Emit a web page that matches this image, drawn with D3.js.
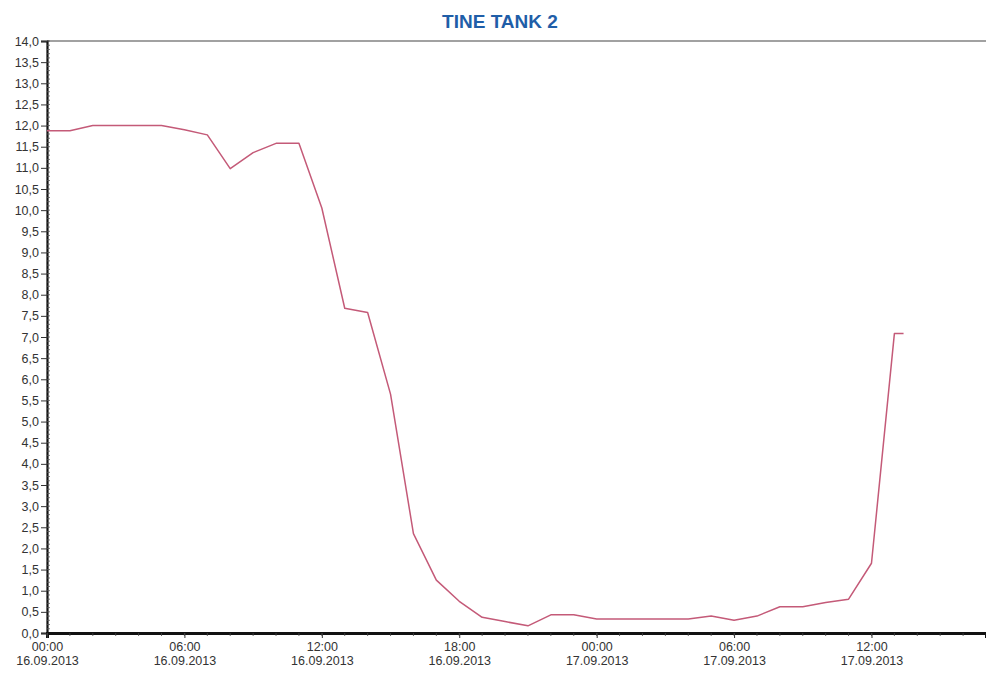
<!DOCTYPE html>
<html>
<head>
<meta charset="utf-8">
<script src="https://cdn.jsdelivr.net/npm/d3@7"></script>
<style>
  html, body { margin: 0; padding: 0; background: #fff; }
  svg { display: block; }
</style>
</head>
<body>
<svg id="chart" width="986" height="681"></svg>
<script>
const title = "TINE TANK 2";

const times = [
  "2013-09-16T00:00","2013-09-16T01:00","2013-09-16T02:00","2013-09-16T03:00",
  "2013-09-16T04:00","2013-09-16T05:00","2013-09-16T06:00","2013-09-16T07:00",
  "2013-09-16T08:00","2013-09-16T09:00","2013-09-16T10:00","2013-09-16T11:00",
  "2013-09-16T12:00","2013-09-16T13:00","2013-09-16T14:00","2013-09-16T15:00",
  "2013-09-16T16:00","2013-09-16T17:00","2013-09-16T18:00","2013-09-16T19:00",
  "2013-09-16T20:00","2013-09-16T21:00","2013-09-16T22:00","2013-09-16T23:00",
  "2013-09-17T00:00","2013-09-17T01:00","2013-09-17T02:00","2013-09-17T03:00",
  "2013-09-17T04:00","2013-09-17T05:00","2013-09-17T06:00","2013-09-17T07:00",
  "2013-09-17T08:00","2013-09-17T09:00","2013-09-17T10:00","2013-09-17T11:00",
  "2013-09-17T12:00","2013-09-17T13:00","2013-09-17T13:24"
];

const levels = [
  11.88, 11.88, 12.0, 12.0,
  12.0, 12.0, 11.9, 11.78,
  10.98, 11.36, 11.58, 11.58,
  10.05, 7.68, 7.58, 5.65,
  2.35, 1.25, 0.75, 0.37,
  0.27, 0.17, 0.43, 0.43,
  0.33, 0.33, 0.33, 0.33,
  0.33, 0.4, 0.3, 0.4,
  0.62, 0.62, 0.72, 0.8,
  1.65, 7.08, 7.08
];

const xTickTimes = [
  "2013-09-16T00:00","2013-09-16T06:00","2013-09-16T12:00","2013-09-16T18:00",
  "2013-09-17T00:00","2013-09-17T06:00","2013-09-17T12:00"
];
const yTicks = d3.range(0, 14.01, 0.5);
const yDomain = [0, 14];
const xStart = "2013-09-16T00:00";
const xEnd = "2013-09-17T17:00";

const parse = d3.timeParse("%Y-%m-%dT%H:%M");
const data = times.map((t, i) => ({ t: parse(t), v: levels[i] }));

const svg = d3.select("#chart");
const mLeft = 47, mRight = 986, mTop = 41, mBottom = 633;

const x = d3.scaleTime().domain([parse(xStart), parse(xEnd)]).range([mLeft, mRight]);
const y = d3.scaleLinear().domain(yDomain).range([mBottom, mTop]);

// title
svg.append("text")
  .attr("x", 500).attr("y", 28)
  .attr("text-anchor", "middle")
  .attr("font-family", "Liberation Sans, Arial, sans-serif")
  .attr("font-weight", "bold")
  .attr("font-size", 19)
  .attr("fill", "#1f5ea8")
  .text(title);

// top border
svg.append("line")
  .attr("x1", mLeft).attr("x2", mRight)
  .attr("y1", mTop).attr("y2", mTop)
  .attr("stroke", "#444").attr("stroke-width", 1.2);

// y axis
const fmtY = v => d3.format(".1f")(v).replace(".", ",");
const yAxis = d3.axisLeft(y).tickValues(yTicks).tickFormat(fmtY).tickSize(6).tickPadding(2);
const gy = svg.append("g").attr("transform", `translate(${mLeft},0)`).call(yAxis);
gy.select(".domain").attr("stroke", "#111").attr("stroke-width", 2.2);
gy.selectAll(".tick line").attr("stroke", "#333");
gy.selectAll(".tick text")
  .attr("font-family", "Liberation Sans, Arial, sans-serif")
  .attr("font-size", 12.5).attr("fill", "#333");

// minor y ticks
const yMinor = d3.range(0, 14.001, 0.1);
svg.append("g").selectAll("line").data(yMinor).join("line")
  .attr("x1", mLeft).attr("x2", mLeft + 3)
  .attr("y1", d => y(d)).attr("y2", d => y(d))
  .attr("stroke", "#555").attr("stroke-width", 0.8);

// x axis
const fmtT = d3.timeFormat("%H:%M"), fmtD = d3.timeFormat("%d.%m.%Y");
const xAxis = d3.axisBottom(x).tickValues(xTickTimes.map(parse)).tickFormat("").tickSize(5);
const gx = svg.append("g").attr("transform", `translate(0,${mBottom})`).call(xAxis);
gx.select(".domain").attr("stroke", "#111").attr("stroke-width", 3);
gx.selectAll(".tick line").attr("stroke", "#333");
gx.selectAll(".tick").each(function(d) {
  const t = d3.select(this).append("text")
    .attr("text-anchor", "middle")
    .attr("font-family", "Liberation Sans, Arial, sans-serif")
    .attr("font-size", 12.5).attr("fill", "#333");
  t.append("tspan").attr("x", 0).attr("y", 18).text(fmtT(d));
  t.append("tspan").attr("x", 0).attr("y", 32).text(fmtD(d));
});

// minor x ticks (hourly)
const xMinor = d3.timeHour.range(parse(xStart), parse(xEnd));
svg.append("g").selectAll("line").data(xMinor).join("line")
  .attr("x1", d => x(d)).attr("x2", d => x(d))
  .attr("y1", mBottom).attr("y2", mBottom + 3)
  .attr("stroke", "#444").attr("stroke-width", 0.8);

// line
const line = d3.line().x(d => x(d.t)).y(d => y(d.v));
svg.append("path")
  .datum(data)
  .attr("d", line)
  .attr("fill", "none")
  .attr("stroke", "#c45a78")
  .attr("stroke-width", 1.5)
  .attr("stroke-linejoin", "round");
</script>
</body>
</html>
